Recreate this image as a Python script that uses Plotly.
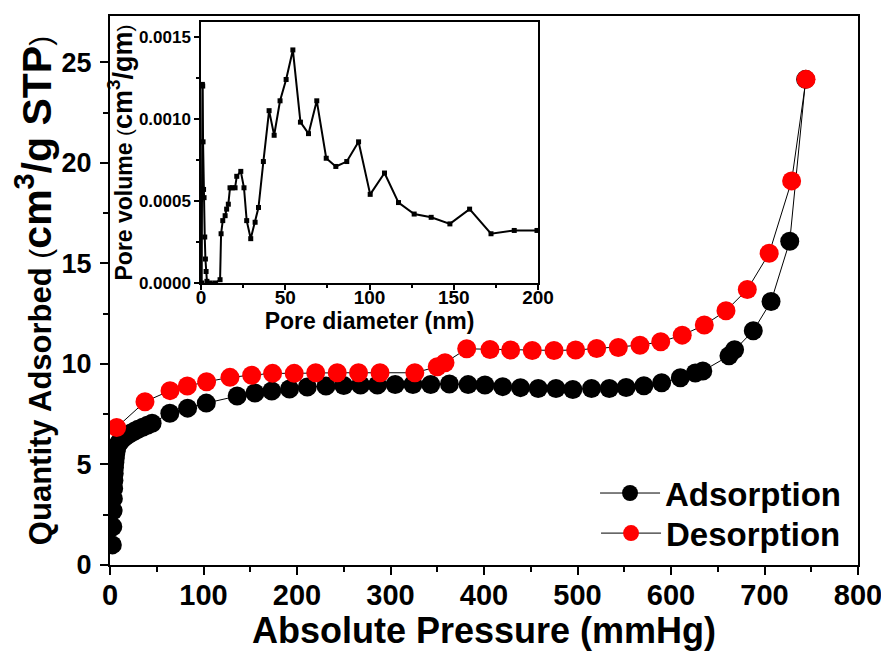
import plotly.graph_objects as go

# Main isotherm data (Absolute pressure mmHg, quantity adsorbed cm3/g STP)
ads_p = [2.5, 3.0, 3.3, 3.6, 3.9, 4.2, 4.5, 4.8, 5.2, 5.6, 6.0, 6.5, 7.0, 8.0, 9.5, 11, 13, 15.5, 18.5, 22,
         26, 30, 35, 40, 45, 64, 83, 103, 136, 155, 173, 192, 211, 231, 250, 268, 286, 305, 324, 343,
         363, 383, 401, 420, 439, 458, 477, 495, 515, 534, 552, 571, 590, 610, 626, 634, 662, 668, 688, 707,
         727, 744]
ads_q = [1.0, 1.9, 2.7, 3.3, 3.8, 4.2, 4.55, 4.85, 5.1, 5.3, 5.5, 5.65, 5.8, 5.95, 6.05, 6.15, 6.25, 6.35, 6.45, 6.55,
         6.65, 6.75, 6.85, 6.95, 7.05, 7.55, 7.8, 8.05, 8.4, 8.55, 8.65, 8.75, 8.85, 8.9, 8.92, 8.95, 8.95, 8.98, 8.98, 8.98,
         9.0, 8.97, 8.95, 8.87, 8.82, 8.78, 8.78, 8.73, 8.78, 8.78, 8.83, 8.91, 9.06, 9.31, 9.55, 9.65, 10.4, 10.7, 11.65, 13.1,
         16.1, 24.15]

des_p = [7.1, 37.4, 64.2, 82.7, 103.3, 128.3, 151.5, 173.9, 197, 220, 243, 265.8, 288.8, 326, 350, 358.3, 381.5,
         406.4, 428.5, 451.6, 474.9, 498, 520.5, 543.6, 566.8, 589, 612, 635.6, 658.8, 681.6, 705, 729, 744.4]
des_q = [6.84, 8.12, 8.67, 8.9, 9.11, 9.33, 9.44, 9.53, 9.53, 9.56, 9.56, 9.56, 9.56, 9.56, 9.86, 10.06, 10.75,
         10.72, 10.69, 10.67, 10.67, 10.69, 10.77, 10.82, 10.93, 11.1, 11.43, 11.93, 12.64, 13.7, 15.5, 19.1, 24.15]

# Inset: pore size distribution
pore_d = [0.4, 0.8, 1.0, 1.2, 1.5, 1.8, 2.2, 2.6, 3.0, 3.5, 5.5, 8.5, 11.3, 11.9, 12.9, 14.3, 15.2, 16.2, 17.2, 18.6,
          20.2, 21.2, 23.6, 25.5, 27.1, 29.5, 32.1, 34.1, 37.0, 40.4, 43.4, 46.9, 50.5, 54.5, 59.0, 63.8, 68.7,
          74.3, 80.0, 86.5, 93.5, 100.4, 108.9, 117.2, 126.5, 136.6, 147.7, 159.4, 172.1, 185.9, 199.4]
pore_v = [0.0, 0.00121, 0.0012, 0.00086, 0.00057, 0.00052, 0.00028, 0.000146, 0.00007, 0.00001, 0.0, 0.0, 0.00002,
          0.0003, 0.00038, 0.00041, 0.00045, 0.00048, 0.00058, 0.00058, 0.00058, 0.00065, 0.00068, 0.00058, 0.00038,
          0.00027, 0.00037, 0.00046, 0.00074, 0.00105, 0.0009, 0.00111, 0.00124, 0.00142, 0.00098, 0.00091, 0.00111,
          0.00076, 0.00071, 0.00074, 0.00086, 0.00054, 0.00067, 0.00049, 0.00042, 0.0004, 0.00036, 0.00045, 0.0003,
          0.00032, 0.00032]

main_xticks = [0, 100, 200, 300, 400, 500, 600, 700, 800]
main_yticks = [0, 5, 10, 15, 20, 25]
inset_xticks = [0, 50, 100, 150, 200]
inset_yticks = [0, 0.0005, 0.0010, 0.0015]
inset_yticklabels = ["0.0000", "0.0005", "0.0010", "0.0015"]

ARIAL = "Liberation Sans, Arial, sans-serif"

fig = go.Figure()
fig.add_trace(go.Scatter(x=ads_p, y=ads_q, mode="lines+markers", name="Adsorption",
                         line=dict(color="black", width=1),
                         marker=dict(color="black", size=19, symbol="circle"),
                         xaxis="x", yaxis="y", legend="legend"))
fig.add_trace(go.Scatter(x=des_p, y=des_q, mode="lines+markers", name="Desorption",
                         line=dict(color="black", width=1),
                         marker=dict(color="#ff0000", size=19, symbol="circle"),
                         xaxis="x", yaxis="y", legend="legend2"))
fig.add_trace(go.Scatter(x=pore_d, y=pore_v, mode="lines+markers", showlegend=False,
                         line=dict(color="black", width=2),
                         marker=dict(color="black", size=5, symbol="square"),
                         xaxis="x2", yaxis="y2"))

axis_common = dict(showline=True, linecolor="black", linewidth=2, mirror=True,
                   ticks="outside", tickcolor="black", tickwidth=2,
                   showgrid=False, zeroline=False, automargin=False)
inset_common = {**axis_common, "linewidth": 1.5, "tickwidth": 1.5}

y_title = ("Quantity Adsorbed <span style='font-weight:normal;font-size:30px'>(</span>"
           "<span style='font-size:41px'>cm<sup>3</sup>/g STP</span>"
           "<span style='font-weight:normal;font-size:30px'>)</span>")
y2_title = ("Pore volume <span style='font-weight:normal;font-size:21px'>(</span>"
            "<span style='font-size:27px'>cm<sup>3</sup>/gm</span>"
            "<span style='font-weight:normal;font-size:21px'>)</span>")

legend_style = dict(xanchor="right", yanchor="middle", bgcolor="rgba(0,0,0,0)", itemwidth=60,
                    font=dict(family=ARIAL, size=33, color="black", weight="bold"))

# The page body has an 8px margin, so the figure is drawn 8px smaller and offset
fig.update_layout(
    width=881, height=643,
    margin=dict(l=102, r=31, t=8, b=86),
    paper_bgcolor="white", plot_bgcolor="white",
    showlegend=True,
    legend=dict(x=0.984, y=0.131, **legend_style),
    legend2=dict(x=0.984, y=0.058, **legend_style),
    xaxis=dict(range=[0, 800], tickvals=main_xticks,
               ticklen=8, ticklabelstandoff=-5,
               minor=dict(dtick=50, ticks="outside", ticklen=5, tickwidth=2, tickcolor="black"),
               tickfont=dict(family=ARIAL, size=29, color="black", weight="bold"),
               title=dict(text="Absolute Pressure (mmHg)", standoff=16,
                          font=dict(family=ARIAL, size=36, color="black", weight="bold")),
               **axis_common),
    yaxis=dict(range=[0, 27.3], tickvals=main_yticks,
               ticklen=8, ticklabelstandoff=3,
               minor=dict(dtick=2.5, ticks="outside", ticklen=5, tickwidth=2, tickcolor="black"),
               tickfont=dict(family=ARIAL, size=27, color="black", weight="bold"),
               title=dict(text=y_title, standoff=8,
                          font=dict(family=ARIAL, size=31, color="black", weight="bold")),
               **axis_common),
    xaxis2=dict(domain=[0.1217, 0.5722], anchor="y2", range=[0, 200],
                tickvals=inset_xticks, ticklen=5, ticklabelstandoff=-9,
                minor=dict(dtick=25, ticks="outside", ticklen=3, tickwidth=1.5, tickcolor="black"),
                tickfont=dict(family=ARIAL, size=19, color="black", weight="bold"),
                title=dict(text="Pore diameter (nm)", standoff=0,
                           font=dict(family=ARIAL, size=23, color="black", weight="bold")),
                **inset_common),
    yaxis2=dict(domain=[0.5137, 0.989], anchor="x2", range=[0, 0.00159],
                tickvals=inset_yticks, ticktext=inset_yticklabels,
                ticklen=5,
                minor=dict(dtick=0.00025, ticks="outside", ticklen=3, tickwidth=1.5, tickcolor="black"),
                tickfont=dict(family=ARIAL, size=17, color="black", weight="bold"),
                title=dict(text=y2_title, standoff=0,
                           font=dict(family=ARIAL, size=23, color="black", weight="bold")),
                **inset_common),
)

fig.write_html("out.html")
